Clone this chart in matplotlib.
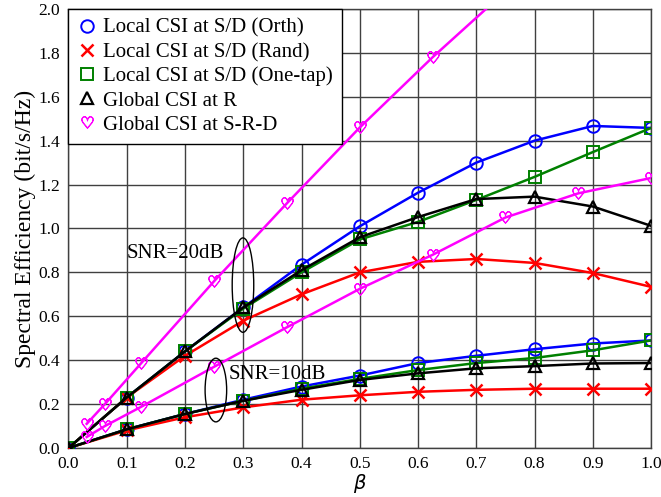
import numpy as np
import matplotlib
matplotlib.use("Agg")
import matplotlib.pyplot as plt
from matplotlib.patches import Ellipse

plt.rcParams['font.family'] = ['Liberation Serif', 'DejaVu Serif']

# beta grid for the S/D and R schemes
beta = [0.0, 0.1, 0.2, 0.3, 0.4, 0.5, 0.6, 0.7, 0.8, 0.9, 1.0]
# beta grid for the S-R-D scheme (heart markers)
beta_srd = [0.03125, 0.0625, 0.125, 0.25, 0.375, 0.5, 0.625, 0.75, 0.875, 1.0]

# SNR = 20 dB
orth_20 = [0.0, 0.23, 0.44, 0.64, 0.835, 1.01, 1.163, 1.30, 1.40, 1.467, 1.458]
rand_20 = [0.0, 0.23, 0.42, 0.58, 0.70, 0.80, 0.848, 0.861, 0.843, 0.797, 0.734]
onetap_20 = [0.0, 0.23, 0.44, 0.635, 0.80, 0.95, 1.03, 1.13, 1.235, 1.348, 1.458]
globr_20 = [0.0, 0.23, 0.44, 0.64, 0.81, 0.96, 1.052, 1.134, 1.145, 1.10, 1.012]
srd_20 = [0.11, 0.20, 0.387, 0.76, 1.115, 1.46, 1.78, 2.08, 2.36, 2.62]

# SNR = 10 dB
orth_10 = [0.0, 0.085, 0.155, 0.22, 0.28, 0.33, 0.387, 0.42, 0.45, 0.476, 0.49]
rand_10 = [0.0, 0.08, 0.14, 0.185, 0.22, 0.24, 0.256, 0.265, 0.27, 0.27, 0.27]
onetap_10 = [0.0, 0.085, 0.155, 0.215, 0.27, 0.315, 0.355, 0.387, 0.41, 0.445, 0.49]
globr_10 = [0.0, 0.085, 0.155, 0.215, 0.265, 0.31, 0.34, 0.363, 0.373, 0.385, 0.387]
srd_10 = [0.05, 0.10, 0.188, 0.37, 0.55, 0.725, 0.88, 1.05, 1.16, 1.23]

labels = ["Local CSI at S/D (Orth)", "Local CSI at S/D (Rand)",
          "Local CSI at S/D (One-tap)", "Global CSI at R", "Global CSI at S-R-D"]

fig = plt.figure(figsize=(6.61, 4.97), dpi=100)
ax = fig.add_axes([0.1036, 0.0986, 0.8814, 0.8834])

heart = "$\u2661$"
styles = [
    dict(color="#0000ff", marker="o", ms=9, mfc="none", mew=1.4),
    dict(color="#ff0000", marker="x", ms=9, mew=1.8),
    dict(color="#008000", marker="s", ms=8.5, mfc="none", mew=1.4),
    dict(color="black", marker="^", ms=9, mfc="none", mew=1.6),
    dict(color="#ff00ff", marker=heart, ms=8.5, mew=0.7),
]

for i, (s20, s10) in enumerate([(orth_20, orth_10), (rand_20, rand_10),
                                (onetap_20, onetap_10), (globr_20, globr_10)]):
    ax.plot(beta, s20, lw=1.8, zorder=3 + i, **styles[i])
    ax.plot(beta, s10, lw=1.8, zorder=3 + i, **styles[i])
ax.plot(beta_srd, srd_20, lw=1.8, zorder=8, **styles[4])
ax.plot(beta_srd, srd_10, lw=1.8, zorder=8, **styles[4])

# legend (markers only)
handles = [ax.plot([], [], ls="none", **st)[0] for st in styles]
leg = ax.legend(handles, labels, loc="upper left", fontsize=15, frameon=True,
                fancybox=False, edgecolor="black", framealpha=1,
                borderaxespad=0, handlelength=0.9, handletextpad=0.3,
                labelspacing=0.22, borderpad=0.45)
leg.get_frame().set_linewidth(1.0)
leg.set_zorder(20)

# SNR annotations
ax.add_patch(Ellipse((0.2995, 0.742), 0.037, 0.43, fill=False, color="black", lw=1, zorder=9))
ax.add_patch(Ellipse((0.253, 0.264), 0.037, 0.29, fill=False, color="black", lw=1, zorder=9))
ax.text(0.1, 0.888, "SNR=20dB", fontsize=15, va="center", ha="left", zorder=10)
ax.text(0.2756, 0.333, "SNR=10dB", fontsize=15, va="center", ha="left", zorder=10)

ax.set_xlim(0, 1.0)
ax.set_ylim(0, 2.0)
ax.set_xticks(np.arange(0, 1.01, 0.1))
ax.set_yticks(np.arange(0, 2.01, 0.2))
ax.xaxis.set_major_formatter(matplotlib.ticker.FormatStrFormatter("%.1f"))
ax.yaxis.set_major_formatter(matplotlib.ticker.FormatStrFormatter("%.1f"))
ax.tick_params(length=0, labelsize=12.5, pad=6)
ax.grid(True, color="#404040", lw=1.0)
ax.set_axisbelow(True)
for sp in ax.spines.values():
    sp.set_color("#404040")
    sp.set_linewidth(1.0)

ax.set_xlabel(r"$\beta$", fontsize=14, labelpad=0)
ax.set_ylabel("Spectral Efficiency (bit/s/Hz)", fontsize=17, labelpad=2)

fig.savefig("out.png", dpi=100)
